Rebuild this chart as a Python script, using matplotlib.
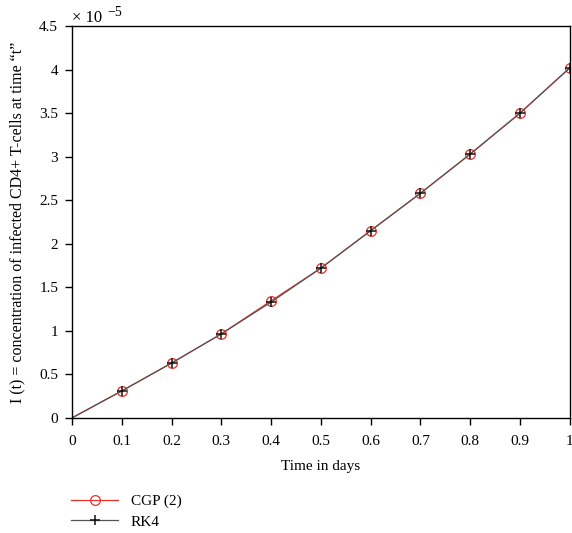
import numpy as np
import matplotlib.pyplot as plt
from matplotlib.ticker import FuncFormatter

plt.rcParams['font.family'] = ['Liberation Serif', 'DejaVu Serif']
plt.rcParams['font.size'] = 11

# time grid (days) and infected CD4+ T-cell concentration
t = [0, 0.1, 0.2, 0.3, 0.4, 0.5, 0.6, 0.7, 0.8, 0.9, 1.0]
cgp = [0, 0.31e-5, 0.63e-5, 0.965e-5, 1.345e-5, 1.72e-5, 2.15e-5, 2.58e-5, 3.03e-5, 3.50e-5, 4.02e-5]
rk4 = [0, 0.31e-5, 0.63e-5, 0.965e-5, 1.33e-5, 1.72e-5, 2.15e-5, 2.58e-5, 3.03e-5, 3.50e-5, 4.02e-5]

fig = plt.figure(figsize=(5.72, 5.33), dpi=100)
ax = fig.add_axes([0.126, 0.216, 0.870, 0.735])

ax.plot(t, cgp, color='#e8302a', lw=0.9, marker='o', ms=7, mfc='none',
        mec='#e8302a', mew=0.9, markevery=slice(1, None), label='CGP (2)')
ax.plot(t, rk4, color='#555555', lw=0.9, marker='+', ms=7, mew=1.1,
        mec='#111111', markevery=slice(1, None), label='RK4')

ax.set_xlim(0, 1)
ax.set_ylim(0, 4.5e-5)
ax.set_xticks(np.arange(0, 1.01, 0.1))
ax.set_yticks(np.arange(0, 4.51e-5, 0.5e-5))
ax.xaxis.set_major_formatter(FuncFormatter(lambda v, p: f'{v:g}'))
ax.yaxis.set_major_formatter(FuncFormatter(lambda v, p: f'{round(v * 1e5, 2):g}'))
ax.tick_params(direction='out', length=5, width=1, labelsize=11,
               top=False, right=False)
ax.tick_params(axis='x', pad=7)
ax.tick_params(axis='y', pad=5)
for s in ax.spines.values():
    s.set_linewidth(1.0)

# scale factor of the y axis
ax.text(0.0, 1.0, '\u00d7 10', transform=ax.transAxes,
        fontsize=12, ha='left', va='bottom')
ax.text(0.071, 1.036, '\u22125', transform=ax.transAxes,
        fontsize=10, ha='left', va='center')

ax.set_xlabel('Time in days', fontsize=11, labelpad=9)
ax.set_ylabel('I (t) = concentration of infected CD4+ T-cells at time \u201ct\u201d',
              fontsize=11.5, labelpad=10)

fig.legend(loc='lower left', bbox_to_anchor=(0.1, -0.018), frameon=False,
           fontsize=11, handlelength=3.1, handletextpad=0.8, labelspacing=0.45)

fig.savefig('out.png', dpi=100)
